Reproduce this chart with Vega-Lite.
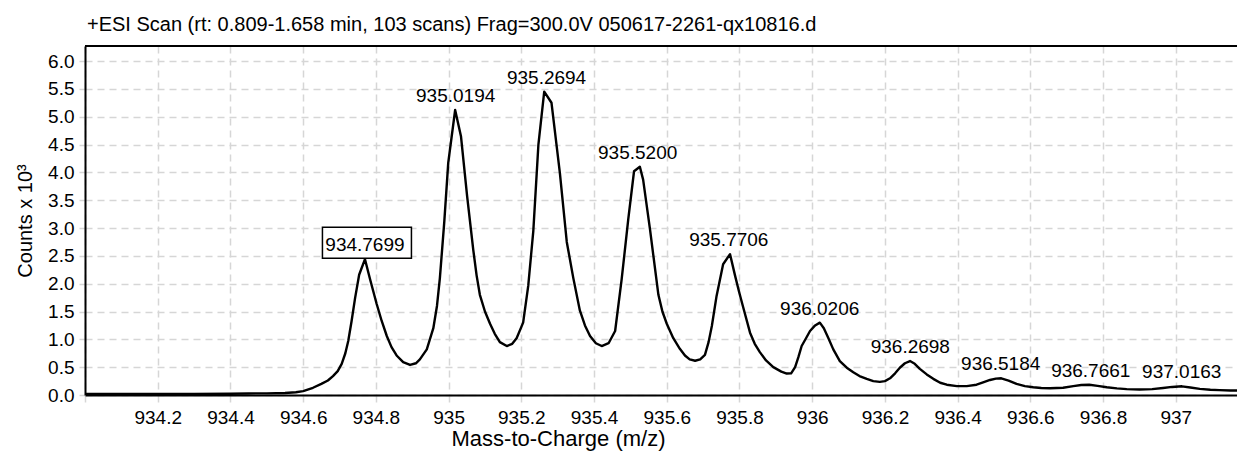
{
  "$schema": "https://vega.github.io/schema/vega-lite/v6.json",
  "autosize": {"type": "none"},
  "padding": {"left": 85, "top": 46, "right": 0, "bottom": 56},
  "width": 1152,
  "height": 349,
  "background": "white",
  "config": {
    "font": "Liberation Sans",
    "view": {"stroke": null},
    "axis": {"labelColor": "black", "titleColor": "black", "titleFontWeight": "normal"}
  },
  "title": {
    "text": "+ESI Scan (rt: 0.809-1.658 min, 103 scans) Frag=300.0V 050617-2261-qx10816.d",
    "anchor": "start",
    "frame": "group",
    "baseline": "alphabetic",
    "offset": -6,
    "dx": 2,
    "fontSize": 20,
    "fontWeight": "normal",
    "font": "Liberation Sans",
    "color": "black"
  },
  "datasets": {
    "spectrum": [
      {"mz": 934.00, "counts": 0.02}, {"mz": 934.10, "counts": 0.02}, {"mz": 934.20, "counts": 0.02},
      {"mz": 934.30, "counts": 0.02}, {"mz": 934.40, "counts": 0.022}, {"mz": 934.45, "counts": 0.028},
      {"mz": 934.50, "counts": 0.03}, {"mz": 934.55, "counts": 0.035}, {"mz": 934.58, "counts": 0.05},
      {"mz": 934.60, "counts": 0.07}, {"mz": 934.627, "counts": 0.13}, {"mz": 934.65, "counts": 0.2},
      {"mz": 934.668, "counts": 0.26}, {"mz": 934.682, "counts": 0.34}, {"mz": 934.695, "counts": 0.43},
      {"mz": 934.706, "counts": 0.56}, {"mz": 934.716, "counts": 0.75}, {"mz": 934.724, "counts": 0.97},
      {"mz": 934.733, "counts": 1.32}, {"mz": 934.743, "counts": 1.75}, {"mz": 934.754, "counts": 2.16},
      {"mz": 934.770, "counts": 2.44}, {"mz": 934.784, "counts": 2.08}, {"mz": 934.793, "counts": 1.86},
      {"mz": 934.802, "counts": 1.64}, {"mz": 934.816, "counts": 1.33}, {"mz": 934.830, "counts": 1.06},
      {"mz": 934.843, "counts": 0.86}, {"mz": 934.857, "counts": 0.71}, {"mz": 934.875, "counts": 0.59},
      {"mz": 934.894, "counts": 0.54}, {"mz": 934.910, "counts": 0.57}, {"mz": 934.921, "counts": 0.64},
      {"mz": 934.940, "counts": 0.82}, {"mz": 934.958, "counts": 1.2}, {"mz": 934.968, "counts": 1.6},
      {"mz": 934.976, "counts": 2.1}, {"mz": 934.988, "counts": 3.1}, {"mz": 934.999, "counts": 4.17},
      {"mz": 935.018, "counts": 5.12}, {"mz": 935.034, "counts": 4.65}, {"mz": 935.051, "counts": 3.57},
      {"mz": 935.068, "counts": 2.6}, {"mz": 935.077, "counts": 2.15}, {"mz": 935.086, "counts": 1.8},
      {"mz": 935.100, "counts": 1.5}, {"mz": 935.114, "counts": 1.28}, {"mz": 935.127, "counts": 1.1},
      {"mz": 935.141, "counts": 0.95}, {"mz": 935.160, "counts": 0.88}, {"mz": 935.175, "counts": 0.92},
      {"mz": 935.187, "counts": 1.02}, {"mz": 935.205, "counts": 1.3}, {"mz": 935.219, "counts": 1.96},
      {"mz": 935.233, "counts": 2.95}, {"mz": 935.247, "counts": 4.5}, {"mz": 935.263, "counts": 5.45},
      {"mz": 935.283, "counts": 5.25}, {"mz": 935.306, "counts": 3.99}, {"mz": 935.325, "counts": 2.75},
      {"mz": 935.343, "counts": 2.1}, {"mz": 935.361, "counts": 1.52}, {"mz": 935.375, "counts": 1.25},
      {"mz": 935.389, "counts": 1.06}, {"mz": 935.405, "counts": 0.93}, {"mz": 935.421, "counts": 0.88},
      {"mz": 935.440, "counts": 0.93}, {"mz": 935.458, "counts": 1.15}, {"mz": 935.476, "counts": 2.08},
      {"mz": 935.494, "counts": 3.15}, {"mz": 935.510, "counts": 4.02}, {"mz": 935.526, "counts": 4.1},
      {"mz": 935.535, "counts": 3.87}, {"mz": 935.554, "counts": 2.97}, {"mz": 935.577, "counts": 1.8},
      {"mz": 935.588, "counts": 1.5}, {"mz": 935.600, "counts": 1.28}, {"mz": 935.618, "counts": 1.02},
      {"mz": 935.636, "counts": 0.83}, {"mz": 935.650, "counts": 0.71}, {"mz": 935.663, "counts": 0.64},
      {"mz": 935.678, "counts": 0.615}, {"mz": 935.692, "counts": 0.64}, {"mz": 935.705, "counts": 0.72},
      {"mz": 935.715, "counts": 0.95}, {"mz": 935.724, "counts": 1.24}, {"mz": 935.737, "counts": 1.78},
      {"mz": 935.755, "counts": 2.35}, {"mz": 935.774, "counts": 2.53}, {"mz": 935.788, "counts": 2.14},
      {"mz": 935.799, "counts": 1.85}, {"mz": 935.810, "counts": 1.58}, {"mz": 935.829, "counts": 1.12},
      {"mz": 935.842, "counts": 0.92}, {"mz": 935.856, "counts": 0.77}, {"mz": 935.873, "counts": 0.62},
      {"mz": 935.893, "counts": 0.5}, {"mz": 935.915, "counts": 0.42}, {"mz": 935.930, "counts": 0.385},
      {"mz": 935.942, "counts": 0.39}, {"mz": 935.953, "counts": 0.5}, {"mz": 935.962, "counts": 0.68},
      {"mz": 935.971, "counts": 0.88}, {"mz": 935.983, "counts": 1.02}, {"mz": 935.994, "counts": 1.15},
      {"mz": 936.008, "counts": 1.25}, {"mz": 936.021, "counts": 1.3}, {"mz": 936.032, "counts": 1.2},
      {"mz": 936.044, "counts": 1.03}, {"mz": 936.058, "counts": 0.82}, {"mz": 936.076, "counts": 0.61},
      {"mz": 936.095, "counts": 0.49}, {"mz": 936.113, "counts": 0.41}, {"mz": 936.130, "counts": 0.34},
      {"mz": 936.150, "counts": 0.29}, {"mz": 936.168, "counts": 0.25}, {"mz": 936.186, "counts": 0.235},
      {"mz": 936.200, "counts": 0.25}, {"mz": 936.214, "counts": 0.3}, {"mz": 936.228, "counts": 0.39},
      {"mz": 936.241, "counts": 0.49}, {"mz": 936.255, "counts": 0.57}, {"mz": 936.269, "counts": 0.61},
      {"mz": 936.282, "counts": 0.56}, {"mz": 936.296, "counts": 0.47}, {"mz": 936.315, "counts": 0.37},
      {"mz": 936.333, "counts": 0.29}, {"mz": 936.352, "counts": 0.22}, {"mz": 936.370, "counts": 0.185},
      {"mz": 936.398, "counts": 0.16}, {"mz": 936.425, "counts": 0.16}, {"mz": 936.452, "counts": 0.185},
      {"mz": 936.472, "counts": 0.23}, {"mz": 936.489, "counts": 0.27}, {"mz": 936.505, "counts": 0.295},
      {"mz": 936.520, "counts": 0.3}, {"mz": 936.540, "counts": 0.26}, {"mz": 936.562, "counts": 0.2},
      {"mz": 936.585, "counts": 0.16}, {"mz": 936.608, "counts": 0.14}, {"mz": 936.630, "counts": 0.125},
      {"mz": 936.654, "counts": 0.12}, {"mz": 936.690, "counts": 0.13}, {"mz": 936.718, "counts": 0.16},
      {"mz": 936.740, "counts": 0.18}, {"mz": 936.762, "counts": 0.185}, {"mz": 936.785, "counts": 0.165},
      {"mz": 936.810, "counts": 0.14}, {"mz": 936.838, "counts": 0.12}, {"mz": 936.865, "counts": 0.105},
      {"mz": 936.900, "counts": 0.1}, {"mz": 936.935, "counts": 0.105}, {"mz": 936.965, "counts": 0.125},
      {"mz": 936.990, "counts": 0.145}, {"mz": 937.017, "counts": 0.156}, {"mz": 937.040, "counts": 0.135},
      {"mz": 937.066, "counts": 0.11}, {"mz": 937.095, "counts": 0.095}, {"mz": 937.120, "counts": 0.088},
      {"mz": 937.150, "counts": 0.082}, {"mz": 937.180, "counts": 0.08}
    ],
    "peaks": [
      {"mz": 934.7699, "counts": 2.44, "label": "934.7699"},
      {"mz": 935.0194, "counts": 5.12, "label": "935.0194"},
      {"mz": 935.2694, "counts": 5.45, "label": "935.2694"},
      {"mz": 935.5200, "counts": 4.10, "label": "935.5200"},
      {"mz": 935.7706, "counts": 2.53, "label": "935.7706"},
      {"mz": 936.0206, "counts": 1.30, "label": "936.0206"},
      {"mz": 936.2698, "counts": 0.61, "label": "936.2698"},
      {"mz": 936.5184, "counts": 0.30, "label": "936.5184"},
      {"mz": 936.7661, "counts": 0.185, "label": "936.7661"},
      {"mz": 937.0163, "counts": 0.156, "label": "937.0163"}
    ],
    "frame": [{"mz": 934.0, "mz2": 937.1683, "counts": 6.27}]
  },
  "encoding": {
    "x": {
      "field": "mz", "type": "quantitative",
      "scale": {"domain": [934, 937.1683], "nice": false, "zero": false},
      "axis": {
        "values": [934.0, 934.2, 934.4, 934.6, 934.8, 935.0, 935.2, 935.4, 935.6, 935.8, 936.0, 936.2, 936.4, 936.6, 936.8, 937.0],
        "labelExpr": "datum.value < 934.1 ? '' : format(datum.value, '.1~f')",
        "grid": true, "gridDash": [7, 5], "gridColor": "#d6d6d6", "gridWidth": 1.5,
        "domainColor": "black", "domainWidth": 2,
        "tickColor": "#d6d6d6", "tickSize": 7, "tickWidth": 1.5,
        "labelPadding": 6, "labelFontSize": 19, "labelOverlap": false, "labelFlush": false,
        "title": "Mass-to-Charge (m/z)", "titleFontSize": 22,
        "titleX": 473, "titleY": 50, "titleBaseline": "alphabetic", "titleAlign": "center"
      }
    },
    "y": {
      "field": "counts", "type": "quantitative",
      "scale": {"domain": [0, 6.27], "nice": false},
      "axis": {
        "values": [0, 0.5, 1, 1.5, 2, 2.5, 3, 3.5, 4, 4.5, 5, 5.5, 6],
        "format": ".1f",
        "grid": true, "gridDash": [7, 5], "gridColor": "#d6d6d6", "gridWidth": 1.5,
        "domainColor": "black", "domainWidth": 2,
        "tickColor": "#d6d6d6", "tickSize": 6, "tickWidth": 1.5,
        "labelPadding": 5, "labelFontSize": 19, "labelBaseline": "middle", "labelOverlap": false, "labelFlush": false,
        "title": "Counts x 10³", "titleFontSize": 20,
        "titleX": -60, "titleY": 174.5, "titleBaseline": "middle", "titleAlign": "center", "titleAngle": -90
      }
    }
  },
  "layer": [
    {
      "data": {"name": "spectrum"},
      "mark": {"type": "line", "color": "black", "strokeWidth": 2.4, "clip": true, "strokeJoin": "round"}
    },
    {
      "data": {"name": "frame"},
      "mark": {"type": "rule", "color": "black", "strokeWidth": 2},
      "encoding": {"x2": {"field": "mz2"}}
    },
    {
      "data": {"name": "peaks"},
      "transform": [{"filter": "datum.label == '934.7699'"}],
      "mark": {
        "type": "point", "shape": "M-1,-0.348H1V0.348H-1Z", "size": 7921,
        "filled": false, "fill": "white", "fillOpacity": 1, "stroke": "black", "strokeWidth": 1.5,
        "opacity": 1, "yOffset": -16.5, "xOffset": 2
      }
    },
    {
      "data": {"name": "peaks"},
      "mark": {"type": "text", "fontSize": 19, "align": "center", "baseline": "alphabetic", "dy": -8, "color": "black"},
      "encoding": {"text": {"field": "label"}}
    }
  ]
}
